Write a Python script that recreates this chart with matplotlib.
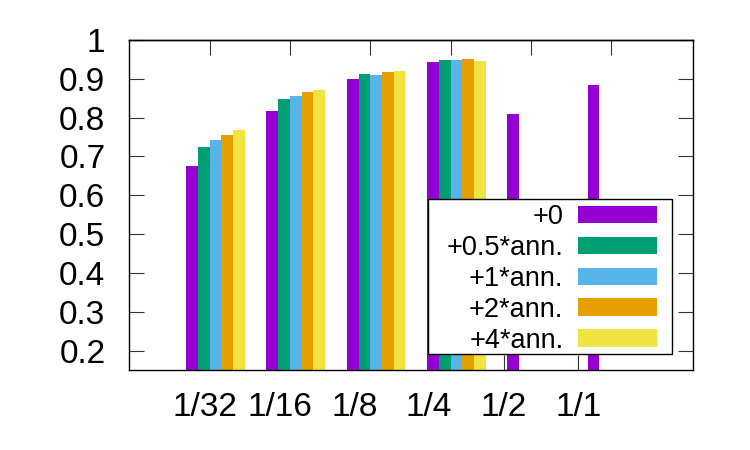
import numpy as np
import matplotlib.pyplot as plt
from matplotlib.patches import Rectangle

plt.rcParams['font.family'] = ['Liberation Sans', 'DejaVu Sans']

# data
groups = ['1/32', '1/16', '1/8', '1/4', '1/2', '1/1']
series = ['+0', '+0.5*ann.', '+1*ann.', '+2*ann.', '+4*ann.']
v0 = [0.676, 0.817, 0.899, 0.944, 0.810, 0.884]
v05 = [0.724, 0.848, 0.913, 0.948, np.nan, np.nan]
v1 = [0.743, 0.857, 0.910, 0.949, np.nan, np.nan]
v2 = [0.755, 0.866, 0.918, 0.951, np.nan, np.nan]
v4 = [0.769, 0.871, 0.920, 0.946, np.nan, np.nan]
yticks = [0.2, 0.3, 0.4, 0.5, 0.6, 0.7, 0.8, 0.9, 1.0]

colors = ['#9400d3', '#009e73', '#56b4e9', '#e69f00', '#f0e442']

fig = plt.figure(figsize=(7.5, 4.5), dpi=100)
ax = fig.add_axes([129/750, 80/450, 564/750, 330/450])
ax.set_axisbelow(True)

x = np.arange(len(groups))
w = 0.146
for j, (vals, lab) in enumerate(zip([v0, v05, v1, v2, v4], series)):
    ax.bar(x + (j - 2) * w, vals, w, color=colors[j], label=lab, linewidth=0)

ax.set_xlim(-1.077, 5.946)
ax.set_ylim(0.15, 1.0)
ax.set_yticks(yticks)
ax.set_yticklabels(['%g' % t for t in yticks])

# labels sit a bit left of the bar groups, top ticks follow the groups
ax.set_xticks(x * 0.93 - 0.13)
ax.set_xticklabels(groups)
ax.tick_params(axis='both', direction='in', length=11, width=0.8, labelsize=24,
               top=False, right=True, color='#333333')
ax.tick_params(axis='x', pad=16)
ax.tick_params(axis='y', pad=17)
top = ax.secondary_xaxis('top')
top.set_xticks(x - 0.07)
top.tick_params(direction='in', length=11, width=0.8, labeltop=False, color='#333333')
for s in ax.spines.values():
    s.set_linewidth(1)
top.spines['top'].set_linewidth(1)

# legend frame drawn separately so the padding can differ per side
ax.add_patch(Rectangle((0.530, 0.048), 0.433, 0.470, transform=ax.transAxes,
                       facecolor='white', edgecolor='black', linewidth=1, zorder=3))
leg = ax.legend(loc='lower right', bbox_to_anchor=(0.936, 0.05), markerfirst=False,
                fontsize=19.5, frameon=False,
                handlelength=2.9, handleheight=0.6, labelspacing=0.18,
                handletextpad=0.55, borderpad=0, borderaxespad=0)
leg.set_zorder(4)

plt.savefig('out.png', dpi=100)
